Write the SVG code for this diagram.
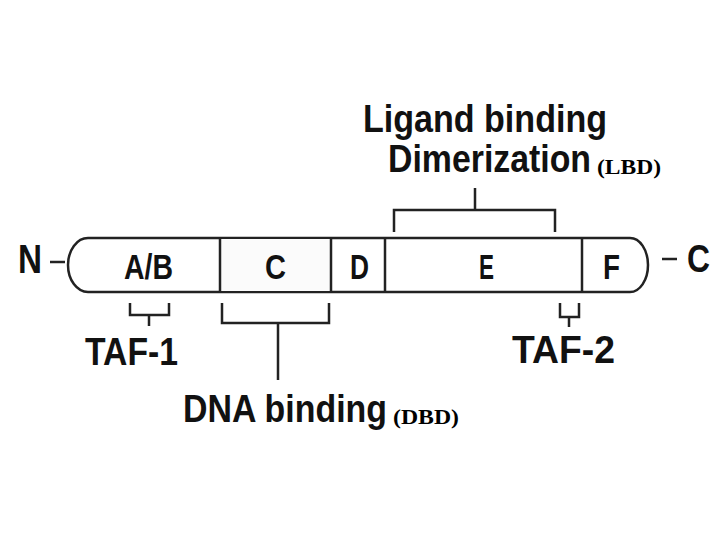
<svg xmlns="http://www.w3.org/2000/svg" width="720" height="540" viewBox="0 0 720 540">
<style>
.t{font-family:"Liberation Sans",Arial,sans-serif;font-weight:bold;fill:#111}
.s{font-family:"Liberation Serif","Times New Roman",serif;font-weight:bold;fill:#000}
.ln{stroke:#222;stroke-width:2.5;fill:none}
.bar{stroke:#222;stroke-width:2.5;fill:#fff}
</style>
<rect width="720" height="540" fill="#fff"/>
<g id="receptor">
<path class="bar" d="M88 238 H630 A18 27 0 0 1 630 292 H88 A20 27 0 0 1 88 238 Z"/>
<rect x="221" y="239" width="110" height="52" fill="#fbfbfb"/>
<line class="ln" x1="220" y1="238" x2="220" y2="292"/>
<line class="ln" x1="331" y1="238" x2="331" y2="292"/>
<line class="ln" x1="385" y1="238" x2="385" y2="292"/>
<line class="ln" x1="582" y1="238" x2="582" y2="292"/>
</g>
<g id="N">
<text class="t" x="18" y="273" font-size="40" textLength="24" lengthAdjust="spacingAndGlyphs">N</text>
<line class="ln" x1="50" y1="262" x2="65" y2="262" stroke-width="3"/>
</g>
<g id="Cterm">
<line class="ln" x1="662" y1="259" x2="677" y2="259" stroke-width="3"/>
<text class="t" x="687" y="272" font-size="38" textLength="23" lengthAdjust="spacingAndGlyphs">C</text>
</g>
<g id="AB"><text class="t" x="124" y="279" font-size="35" textLength="49" lengthAdjust="spacingAndGlyphs">A/B</text></g>
<g id="Cdom"><text class="t" x="265" y="279" font-size="35" textLength="21" lengthAdjust="spacingAndGlyphs">C</text></g>
<g id="Ddom"><text class="t" x="350" y="279" font-size="35" textLength="19" lengthAdjust="spacingAndGlyphs">D</text></g>
<g id="Edom"><text class="t" x="479" y="279" font-size="35" textLength="15" lengthAdjust="spacingAndGlyphs">E</text></g>
<g id="Fdom"><text class="t" x="603" y="279" font-size="35" textLength="17" lengthAdjust="spacingAndGlyphs">F</text></g>
<g id="connectors">
<path class="ln" d="M394 232 V210 H555 V232 M475 210 V188"/>
<path class="ln" d="M130 303 V315 H169 V303 M149 315 V326"/>
<path class="ln" d="M222 303 V323 H329 V303 M278 323 V380"/>
<path class="ln" d="M560 303 V317 H579 V303 M569 317 V327"/>
</g>
<g id="LBD">
<text class="t" x="363" y="132" font-size="38" textLength="244" lengthAdjust="spacingAndGlyphs">Ligand binding</text>
<text class="t" x="388" y="172" font-size="38" textLength="203" lengthAdjust="spacingAndGlyphs">Dimerization</text>
<text class="s" x="597" y="174" font-size="22" textLength="64" lengthAdjust="spacingAndGlyphs">(LBD)</text>
</g>
<g id="TAF1"><text class="t" x="85" y="365" font-size="39" textLength="93" lengthAdjust="spacingAndGlyphs">TAF-1</text></g>
<g id="TAF2"><text class="t" x="512" y="363" font-size="39" textLength="103" lengthAdjust="spacingAndGlyphs">TAF-2</text></g>
<g id="DBD">
<text class="t" x="183" y="422" font-size="39" textLength="204" lengthAdjust="spacingAndGlyphs">DNA binding</text>
<text class="s" x="393" y="424" font-size="22" textLength="66" lengthAdjust="spacingAndGlyphs">(DBD)</text>
</g>
</svg>
